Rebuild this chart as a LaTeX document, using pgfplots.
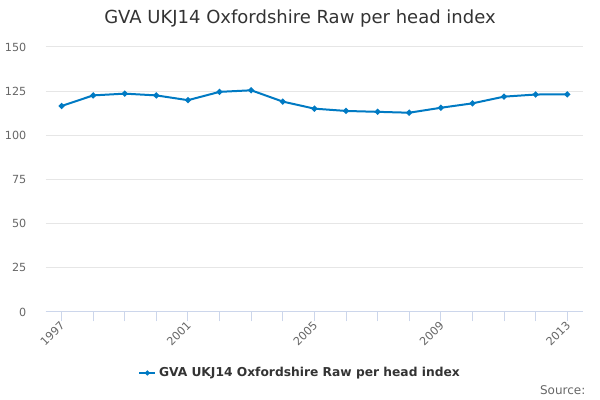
\documentclass[border=0pt]{standalone}
\usepackage{pgfplots}
\pgfplotsset{compat=1.18}
\usepackage{fontspec}
\setmainfont{DejaVu Sans}
\definecolor{lineblue}{RGB}{0,122,195}
\definecolor{gridc}{RGB}{230,230,230}
\definecolor{xax}{RGB}{204,214,235}
\definecolor{lab}{RGB}{102,102,102}
\definecolor{ttl}{RGB}{51,51,51}
\begin{document}
\begin{tikzpicture}
\path[use as bounding box] (0pt,0pt) rectangle (450pt,300pt);
\node[font=\fontsize{13.5pt}{15pt}\selectfont, text=ttl] at (225pt,286pt) {GVA UKJ14 Oxfordshire Raw per head index};
\node[font=\fontsize{9pt}{10pt}\selectfont, text=lab, anchor=east] at (442.5pt,7.5pt) {Source:};
\begin{axis}[
  at={(34.3pt,66pt)}, anchor=south west,
  scale only axis, width=403pt, height=198.75pt,
  xmin=1996.5, xmax=2013.5, ymin=0, ymax=150,
  ytick={0,25,50,75,100,125,150},
  xtick={1997,2001,2005,2009,2013},
  minor x tick num=3,
  axis lines*=left,
  y axis line style={draw=none},
  x axis line style={xax, line width=0.75pt},
  axis line style={-},
  ymajorgrids, grid style={gridc, line width=0.75pt},
  tick align=outside,
  major tick length=7pt, minor tick length=7pt,
  x tick style={xax, line width=0.75pt},
  minor x tick style={xax, line width=0.75pt},
  y tick style={draw=none},
  /pgf/number format/assume math mode=true,
  /pgf/number format/1000 sep={},
  ticklabel style={font=\fontsize{8.4pt}{9pt}\selectfont, text=lab},
  xticklabel style={rotate=45, anchor=east, xshift=3pt, yshift=-1.5pt},
  yticklabel style={xshift=-4pt},
  legend style={at={(0.474,-0.23)}, anchor=center, draw=none, fill=none,
    font=\bfseries\fontsize{9.2pt}{11pt}\selectfont, text=ttl},
  legend cell align=left,
  legend image post style={scale=0.7},
  clip=false,
]
\addplot[lineblue, line width=1.5pt, mark=*, mark size=1.4pt, mark options={lineblue}]
coordinates {
(1997,116.6) (1998,122.6) (1999,123.6) (2000,122.6) (2001,119.9)
(2002,124.6) (2003,125.5) (2004,119.1) (2005,115.1) (2006,113.8)
(2007,113.3) (2008,112.8) (2009,115.6) (2010,118.1) (2011,121.9)
(2012,123.1) (2013,123.2)
};
\addlegendentry{GVA UKJ14 Oxfordshire Raw per head index}
\end{axis}
\end{tikzpicture}
\end{document}
